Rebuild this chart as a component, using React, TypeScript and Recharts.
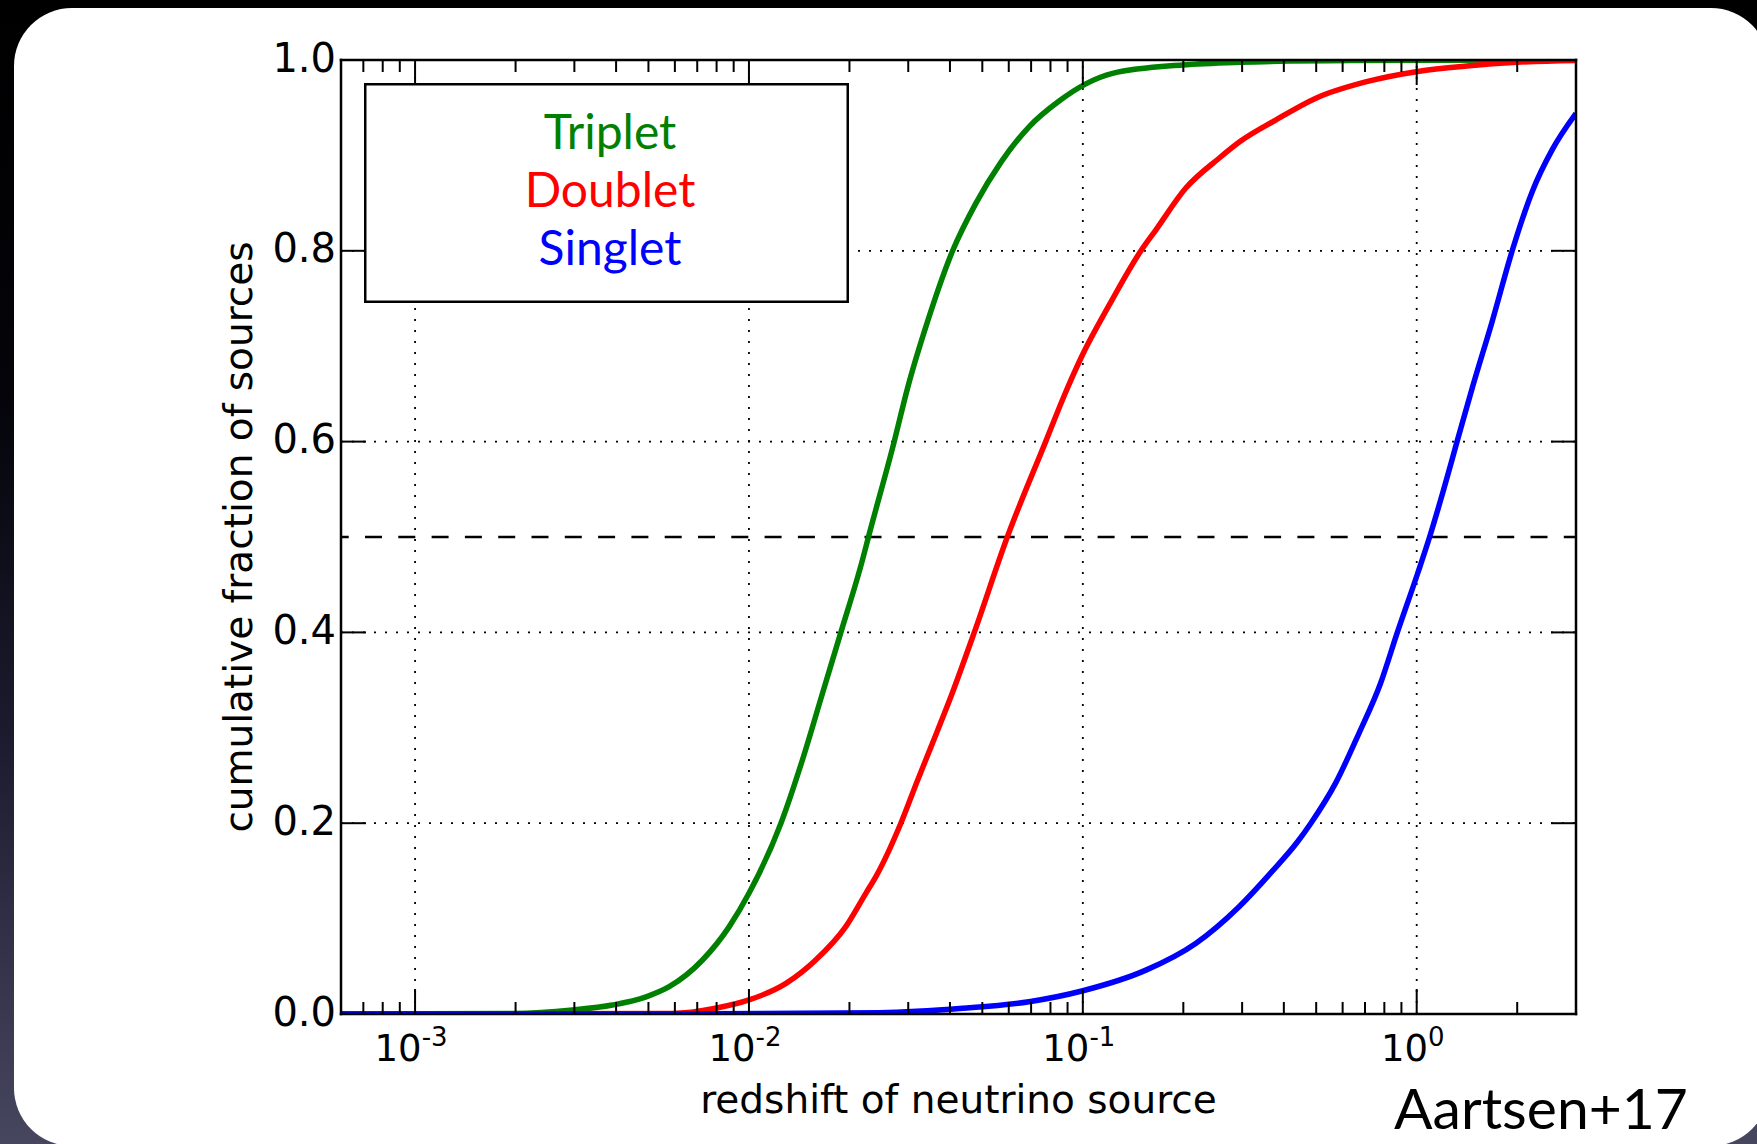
import { LineChart, Line, XAxis, YAxis, ReferenceLine, Legend } from 'recharts'

// ── data ─────────────────────────────────────────────────────────────────
const SERIES_NAMES = ['Triplet', 'Doublet', 'Singlet']
const SERIES_COLORS = ['#008000', '#ff0000', '#0000ff']

const TRIPLET_Z = [0.0006, 0.002, 0.00296, 0.0039, 0.00492, 0.00577, 0.00726, 0.00873, 0.01, 0.01247, 0.01445, 0.0166, 0.01885, 0.02188, 0.0228, 0.02723, 0.02985, 0.03428, 0.04074, 0.04786, 0.05689, 0.06902, 0.08492, 0.1021, 0.1227, 0.1986, 0.2938, 0.631, 3.0]
const TRIPLET_F = [0, 0.0005, 0.0042, 0.0094, 0.018, 0.0286, 0.0566, 0.0916, 0.1265, 0.2, 0.266, 0.336, 0.4, 0.476, 0.5, 0.6, 0.656, 0.726, 0.8, 0.85, 0.893, 0.93, 0.957, 0.975, 0.986, 0.9948, 0.9976, 0.9995, 1.0]

const DOUBLET_Z = [0.0006, 0.0059, 0.00794, 0.01, 0.01291, 0.01585, 0.0195, 0.02239, 0.024, 0.02851, 0.032, 0.0351, 0.0403, 0.0473, 0.0594, 0.0774, 0.0889, 0.0998, 0.1199, 0.1493, 0.1656, 0.2032, 0.2559, 0.297, 0.378, 0.499, 0.703, 1.007, 1.413, 1.995, 3.0]
const DOUBLET_F = [0, 0.0005, 0.006, 0.0147, 0.0321, 0.0566, 0.0916, 0.1265, 0.144, 0.2, 0.245, 0.28, 0.333, 0.4, 0.5, 0.6, 0.652, 0.691, 0.743, 0.8, 0.822, 0.8655, 0.897, 0.915, 0.937, 0.96, 0.977, 0.988, 0.9937, 0.9976, 0.9995]

const SINGLET_Z = [0.0006, 0.0063, 0.02455, 0.04365, 0.069, 0.1, 0.1545, 0.2178, 0.2938, 0.37, 0.4385, 0.482, 0.5715, 0.671, 0.78, 0.875, 1.007, 1.093, 1.205, 1.321, 1.466, 1.683, 1.932, 2.218, 2.547, 3.0]
const SINGLET_F = [0, 0.0001, 0.0014, 0.006, 0.0129, 0.0244, 0.046, 0.074, 0.1125, 0.15, 0.18, 0.2, 0.242, 0.294, 0.347, 0.4, 0.462, 0.5, 0.55, 0.6, 0.656, 0.726, 0.8, 0.862, 0.906, 0.944]

const X_DOMAIN = [0.0006, 3]
const MAJOR_X = [0.001, 0.01, 0.1, 1]
const MAJOR_X_EXP = ['-3', '-2', '-1', '0']
const MINOR_X = [
  0.0007, 0.0008, 0.0009,
  0.002, 0.003, 0.004, 0.005, 0.006, 0.007, 0.008, 0.009,
  0.02, 0.03, 0.04, 0.05, 0.06, 0.07, 0.08, 0.09,
  0.2, 0.3, 0.4, 0.5, 0.6, 0.7, 0.8, 0.9,
  2,
]
const X_TICKS = [...MINOR_X, ...MAJOR_X].sort((a, b) => a - b)

const Y_TICKS = [0, 0.2, 0.4, 0.6, 0.8, 1.0]
const Y_TICK_LABELS = ['0.0', '0.2', '0.4', '0.6', '0.8', '1.0']
const GRID_Y = [0.2, 0.4, 0.6, 0.8]
const HALF_LINE = 0.5

const X_LABEL = 'redshift of neutrino source'
const Y_LABEL = 'cumulative fraction of sources'
const CREDIT = 'Aartsen+17'

const zip = (zs: number[], fs: number[]) => zs.map((z, i) => ({ z, f: fs[i] }))
const SERIES_DATA = [zip(TRIPLET_Z, TRIPLET_F), zip(DOUBLET_Z, DOUBLET_F), zip(SINGLET_Z, SINGLET_F)]

// ── styling ──────────────────────────────────────────────────────────────
const FONT = 'DejaVu Sans'
const MAJOR_LEN = 25
const MINOR_LEN = 12
const spine = { stroke: '#000', strokeWidth: 2.5, strokeLinecap: 'square' as const }

// inward ticks, matplotlib classic style
function BottomTick({ x, y, payload }: any) {
  const i = MAJOR_X.indexOf(payload.value)
  const major = i >= 0
  return (
    <g>
      <line x1={x} x2={x} y1={y} y2={y - (major ? MAJOR_LEN : MINOR_LEN)} stroke="#000" strokeWidth={2} />
      {major && (
        <text x={x - 4} y={y + 47} textAnchor="middle" fontFamily={FONT} fontSize={37} fill="#000">
          10<tspan dy={-15} fontSize={26}>{MAJOR_X_EXP[i]}</tspan>
        </text>
      )}
    </g>
  )
}

function TopTick({ x, y, payload }: any) {
  const major = MAJOR_X.includes(payload.value)
  return <line x1={x} x2={x} y1={y} y2={y + (major ? MAJOR_LEN : MINOR_LEN)} stroke="#000" strokeWidth={2} />
}

function LeftTick({ x, y, payload }: any) {
  const i = Y_TICKS.indexOf(payload.value)
  return (
    <g>
      <line x1={x} x2={x + MAJOR_LEN} y1={y} y2={y} stroke="#000" strokeWidth={2} />
      <text x={x - 5} y={y + 11.5} textAnchor="end" fontFamily={FONT} fontSize={40} fill="#000">
        {Y_TICK_LABELS[i]}
      </text>
    </g>
  )
}

function RightTick({ x, y }: any) {
  return <line x1={x} x2={x - MAJOR_LEN} y1={y} y2={y} stroke="#000" strokeWidth={2} />
}

function YLabel({ viewBox }: any) {
  const cy = viewBox ? viewBox.y + viewBox.height / 2 : 537
  return (
    <text x={252} y={cy} transform={`rotate(-90 252 ${cy})`} textAnchor="middle" fontFamily={FONT} fontSize={39} fill="#000">
      {Y_LABEL}
    </text>
  )
}

function LegendBox() {
  return (
    <svg width={485} height={220} style={{ display: 'block' }}>
      <rect x={1.25} y={1.25} width={482.5} height={217.5} fill="#fff" stroke="#000" strokeWidth={2.5} />
      {SERIES_NAMES.map((name, i) => (
        <text key={name} x={246} y={66 + i * 58} textAnchor="middle" fontFamily="Lato" fontSize={48} fill={SERIES_COLORS[i]}>
          {name}
        </text>
      ))}
    </svg>
  )
}

export default function App() {
  return (
    <div
      style={{
        position: 'fixed', left: 0, top: 0, width: 1757, height: 1144, overflow: 'hidden',
        background: 'linear-gradient(to bottom, #000 0%, #04040a 35%, #1c1c30 65%, #46465f 100%)',
      }}
    >
      {/* white slide panel */}
      <div style={{ position: 'absolute', left: 14, top: 8, width: 1755, height: 1138, borderRadius: 58, background: '#fff' }} />

      <div style={{ position: 'absolute', left: 0, top: 0 }}>
        <LineChart width={1757} height={1144} margin={{ top: 0, right: 0, bottom: 0, left: 0 }}>
          <XAxis
            dataKey="z" type="number" scale="log" domain={X_DOMAIN} allowDataOverflow
            ticks={X_TICKS} interval={0} height={130} tickSize={0} tickMargin={0}
            tickLine={false} tick={BottomTick} axisLine={spine}
            label={{ value: X_LABEL, position: 'insideBottom', offset: 31, fill: '#000', fontSize: 39, fontFamily: FONT }}
          />
          <XAxis
            xAxisId="top" orientation="top" dataKey="z" type="number" scale="log" domain={X_DOMAIN} allowDataOverflow
            ticks={X_TICKS} interval={0} height={60} tickSize={0} tickMargin={0}
            tickLine={false} tick={TopTick} axisLine={spine}
          />
          <YAxis
            type="number" domain={[0, 1]} allowDataOverflow ticks={Y_TICKS} interval={0}
            width={341} tickSize={0} tickMargin={0} tickLine={false} tick={LeftTick} axisLine={spine}
            label={<YLabel />}
          />
          <YAxis
            yAxisId="right" orientation="right" type="number" domain={[0, 1]} allowDataOverflow
            ticks={Y_TICKS} interval={0} width={181} tickSize={0} tickMargin={0}
            tickLine={false} tick={RightTick} axisLine={spine}
          />

          {MAJOR_X.map((v) => (
            <ReferenceLine key={`gx${v}`} x={v} stroke="#000" strokeWidth={1.8} strokeDasharray="2 9" />
          ))}
          {GRID_Y.map((v) => (
            <ReferenceLine key={`gy${v}`} y={v} stroke="#000" strokeWidth={1.8} strokeDasharray="2 9" />
          ))}
          <ReferenceLine y={HALF_LINE} stroke="#000" strokeWidth={2.5} strokeDasharray="17 16.3" strokeDashoffset={9.3} />

          {SERIES_DATA.map((d, i) => (
            <Line
              key={SERIES_NAMES[i]} name={SERIES_NAMES[i]} data={d} dataKey="f" type="monotone"
              stroke={SERIES_COLORS[i]} strokeWidth={5.5} dot={false} activeDot={false} isAnimationActive={false}
            />
          ))}

          <Legend
            layout="vertical" align="center" verticalAlign="middle" content={LegendBox}
            wrapperStyle={{ left: 364, top: 83, width: 485, height: 220 }}
          />
        </LineChart>
      </div>

      <svg width={1757} height={1144} style={{ position: 'absolute', left: 0, top: 0, pointerEvents: 'none' }}>
        <text x={1394} y={1129} fontFamily="Lato" fontSize={57} fill="#000">{CREDIT}</text>
      </svg>
    </div>
  )
}
